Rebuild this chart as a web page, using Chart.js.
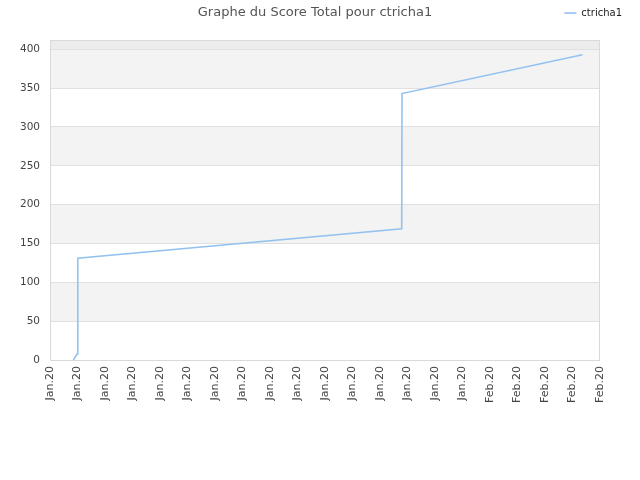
<!DOCTYPE html>
<html>
<head>
<meta charset="utf-8">
<script src="https://cdn.jsdelivr.net/npm/chart.js@4.4.1/dist/chart.umd.min.js"></script>
<style>
  html, body { margin: 0; padding: 0; background: #fff; }
  #wrap { width: 640px; height: 480px; }
</style>
</head>
<body>
<div id="wrap"><canvas id="myChart"></canvas></div>
<script>
// x axis labels, one per tick (16 in january, 5 in february)
const tickLabels = [
    'Jan.20', 'Jan.20', 'Jan.20', 'Jan.20', 'Jan.20', 'Jan.20', 'Jan.20', 'Jan.20',
    'Jan.20', 'Jan.20', 'Jan.20', 'Jan.20', 'Jan.20', 'Jan.20', 'Jan.20', 'Jan.20',
    'Feb.20', 'Feb.20', 'Feb.20', 'Feb.20', 'Feb.20'
];
const yTickValues = [0, 50, 100, 150, 200, 250, 300, 350, 400];
// position of each score along the x axis (in tick units) and the score itself
const dayPos = [0.85, 0.99, 1.01, 12.79, 12.8, 19.36];
const scores = [0, 8, 131, 169, 343, 393];
const playerName = 'ctricha1';
const chartTitle = 'Graphe du Score Total pour ctricha1';
// alternating grey bands on the y axis
const greyBands = [[50, 100], [150, 200], [250, 300], [350, 400]];

const plotBackground = {
    id: 'plotBackground',
    beforeDraw(chart) {
        const { ctx, chartArea: a, scales: { y } } = chart;
        ctx.save();
        ctx.fillStyle = '#f3f3f3';
        greyBands.forEach(([lo, hi]) => {
            const top = y.getPixelForValue(hi);
            const bottom = y.getPixelForValue(lo);
            ctx.fillRect(a.left, top, a.right - a.left, bottom - top);
        });
        // band above the last tick is a bit darker
        ctx.fillStyle = '#ececec';
        const t = y.getPixelForValue(400);
        ctx.fillRect(a.left, a.top, a.right - a.left, t - a.top);
        ctx.restore();
    },
    beforeDatasetsDraw(chart) {
        const { ctx, chartArea: a } = chart;
        ctx.save();
        ctx.strokeStyle = '#d9d9d9';
        ctx.lineWidth = 1;
        ctx.strokeRect(a.left + 0.5, a.top + 0.5, a.right - a.left - 1, a.bottom - a.top);
        ctx.restore();
    }
};

const ctx = document.getElementById('myChart');
new Chart(ctx, {
    type: 'line',
    data: {
        datasets: [{
            label: playerName,
            data: dayPos.map((x, i) => ({ x: x, y: scores[i] })),
            borderColor: '#94c2f0',
            backgroundColor: '#94c2f0',
            borderWidth: 1.6,
            pointRadius: 0,
            tension: 0,
            fill: false
        }]
    },
    options: {
        responsive: true,
        maintainAspectRatio: false,
        animation: false,
        devicePixelRatio: 1,
        layout: { padding: { left: 0, right: 10, top: 0, bottom: 0 } },
        plugins: {
            legend: {
                position: 'top',
                align: 'end',
                weight: 3000,
                labels: {
                    usePointStyle: true,
                    pointStyle: 'line',
                    pointStyleWidth: 12,
                    padding: 8,
                    color: '#222',
                    font: { family: 'DejaVu Sans', size: 10 }
                }
            },
            title: {
                display: true,
                text: chartTitle,
                color: '#555',
                font: { family: 'DejaVu Sans', size: 13, weight: 'normal' },
                padding: { top: -23.3, bottom: 19.7 }
            },
            tooltip: { enabled: false }
        },
        scales: {
            x: {
                type: 'linear',
                min: 0,
                max: tickLabels.length - 1,
                afterFit(scale) {
                    scale.height = 120;
                    scale.paddingRight = 40;
                },
                grid: { display: false, drawTicks: false },
                border: { display: false },
                ticks: {
                    stepSize: 1,
                    autoSkip: false,
                    minRotation: 90,
                    maxRotation: 90,
                    padding: 6,
                    color: '#444',
                    font: { family: 'DejaVu Sans', size: 11 },
                    callback: (value) => tickLabels[value]
                }
            },
            y: {
                min: 0,
                max: 412,
                afterFit(scale) { scale.width = 50; },
                afterBuildTicks(scale) {
                    scale.ticks = yTickValues.map(v => ({ value: v }));
                },
                grid: { color: '#e0e0e0', drawTicks: false },
                border: { display: false },
                ticks: {
                    padding: 10,
                    color: '#444',
                    font: { family: 'DejaVu Sans', size: 10.5 }
                }
            }
        }
    },
    plugins: [plotBackground]
});
</script>
</body>
</html>
